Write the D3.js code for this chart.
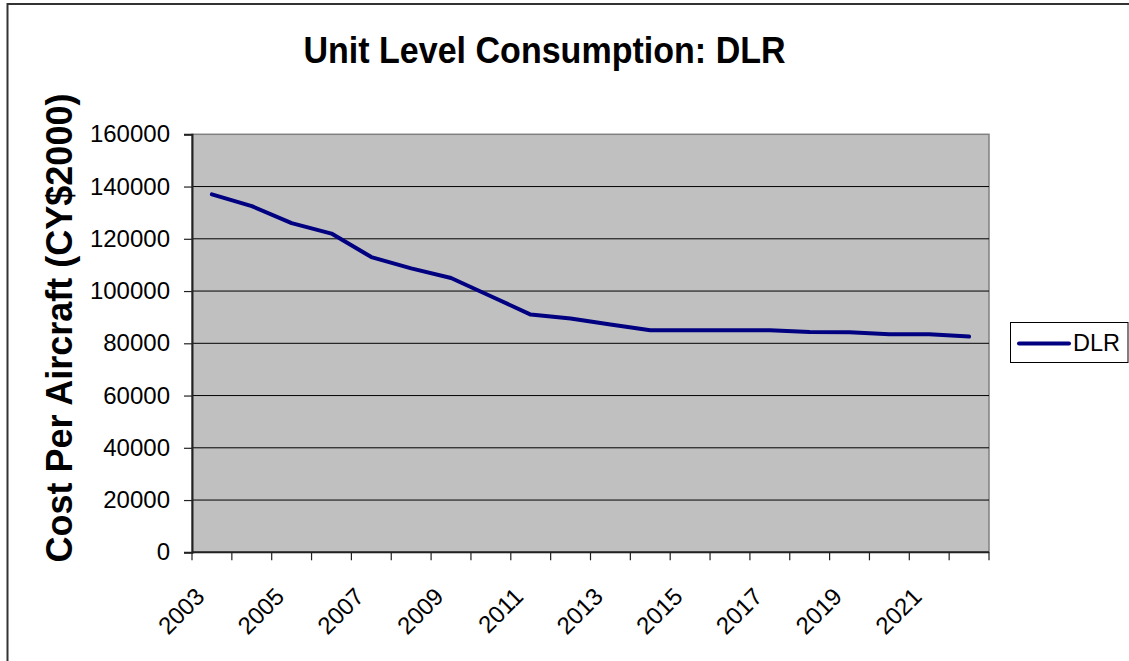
<!DOCTYPE html>
<html>
<head>
<meta charset="utf-8">
<script src="https://cdn.jsdelivr.net/npm/d3@7"></script>
<style>
  html, body { margin: 0; padding: 0; background: #fff; }
  svg { display: block; font-family: "Liberation Sans", Arial, sans-serif; }
</style>
</head>
<body>
<svg id="chart" width="1129" height="661"></svg>
<script>
// Unit level consumption cost per aircraft, DLR, by fiscal year
const years = ["2003","2004","2005","2006","2007","2008","2009","2010","2011","2012",
               "2013","2014","2015","2016","2017","2018","2019","2020","2021","2022"];
const dlrCost = [137000,132500,126000,122000,113000,108700,105000,98000,91000,89500,
                 87200,85000,85000,85000,85000,84300,84200,83500,83500,82600];
const yTicks = [0,20000,40000,60000,80000,100000,120000,140000,160000];
const xLabelYears = ["2003","2005","2007","2009","2011","2013","2015","2017","2019","2021"];

const svg = d3.select("#chart");
const plot = { left: 192, right: 989, top: 134.3, bottom: 552.3 };

// outer chart frame
svg.append("path")
  .attr("d", `M7.5,661 V4 H1129`)
  .attr("fill", "none").attr("stroke", "#333").attr("stroke-width", 2);

const x = d3.scaleBand().domain(years).range([plot.left, plot.right]).padding(0);
const y = d3.scaleLinear().domain([0, 160000]).range([plot.bottom, plot.top]);

// plot area background
svg.append("rect")
  .attr("x", plot.left).attr("y", plot.top)
  .attr("width", plot.right - plot.left).attr("height", plot.bottom - plot.top)
  .attr("fill", "#c0c0c0").attr("stroke", "#808080").attr("stroke-width", 1.5);

// horizontal gridlines
svg.append("g").selectAll("line")
  .data(yTicks.filter(d => d > 0 && d < 160000))
  .join("line")
  .attr("x1", plot.left).attr("x2", plot.right)
  .attr("y1", d => y(d)).attr("y2", d => y(d))
  .attr("stroke", "#000").attr("stroke-width", 1);

// y axis
const yAxis = svg.append("g")
  .attr("transform", `translate(${plot.left},0)`)
  .call(d3.axisLeft(y).tickValues(yTicks).tickSize(8).tickPadding(14).tickFormat(d3.format("d")));
yAxis.select(".domain").attr("stroke", "#222").attr("stroke-width", 2);
yAxis.selectAll(".tick line").attr("stroke", "#222").attr("stroke-width", 1.2);
yAxis.selectAll(".tick text")
  .attr("font-size", 24).attr("fill", "#000")
  .attr("font-family", "'Liberation Sans', Arial, sans-serif");

// x axis: ticks at category boundaries
const boundaries = d3.range(years.length + 1).map(i => plot.left + i * x.bandwidth());
const xAxis = svg.append("g");
xAxis.append("line")
  .attr("x1", plot.left).attr("x2", plot.right)
  .attr("y1", plot.bottom).attr("y2", plot.bottom)
  .attr("stroke", "#222").attr("stroke-width", 2);
xAxis.selectAll("line.tk").data(boundaries).join("line")
  .attr("class", "tk")
  .attr("x1", d => d).attr("x2", d => d)
  .attr("y1", plot.bottom).attr("y2", plot.bottom + 8)
  .attr("stroke", "#222").attr("stroke-width", 1.2);
xAxis.selectAll("text").data(xLabelYears).join("text")
  .attr("transform", d => `translate(${x(d) + x.bandwidth() / 2 - 6},598) rotate(-45)`)
  .attr("text-anchor", "end")
  .attr("font-size", 24)
  .attr("fill", "#000")
  .text(d => d);

// DLR series line
const line = d3.line()
  .x((d, i) => x(years[i]) + x.bandwidth() / 2)
  .y(d => y(d));
svg.append("path")
  .datum(dlrCost)
  .attr("d", line)
  .attr("fill", "none")
  .attr("stroke", "#000080")
  .attr("stroke-width", 4)
  .attr("stroke-linejoin", "round")
  .attr("stroke-linecap", "round");

// chart title
svg.append("text")
  .attr("transform", "translate(544.5,62.5) scale(0.92,1)")
  .attr("text-anchor", "middle")
  .attr("font-size", 37).attr("font-weight", "bold")
  .text("Unit Level Consumption: DLR");

// y axis title
svg.append("text")
  .attr("transform", "translate(72,328) rotate(-90)")
  .attr("text-anchor", "middle")
  .attr("font-size", 36).attr("font-weight", "bold")
  .text("Cost Per Aircraft (CY$2000)");

// legend
const legend = svg.append("g");
legend.append("rect")
  .attr("x", 1010.5).attr("y", 322.5).attr("width", 117.5).attr("height", 40)
  .attr("fill", "#fff").attr("stroke", "#000").attr("stroke-width", 1);
legend.append("line")
  .attr("x1", 1019).attr("x2", 1069).attr("y1", 343.5).attr("y2", 343.5)
  .attr("stroke", "#000080").attr("stroke-width", 4).attr("stroke-linecap", "round");
legend.append("text")
  .attr("x", 1073).attr("y", 351)
  .attr("font-size", 23.5).attr("fill", "#000")
  .text("DLR");
</script>
</body>
</html>
